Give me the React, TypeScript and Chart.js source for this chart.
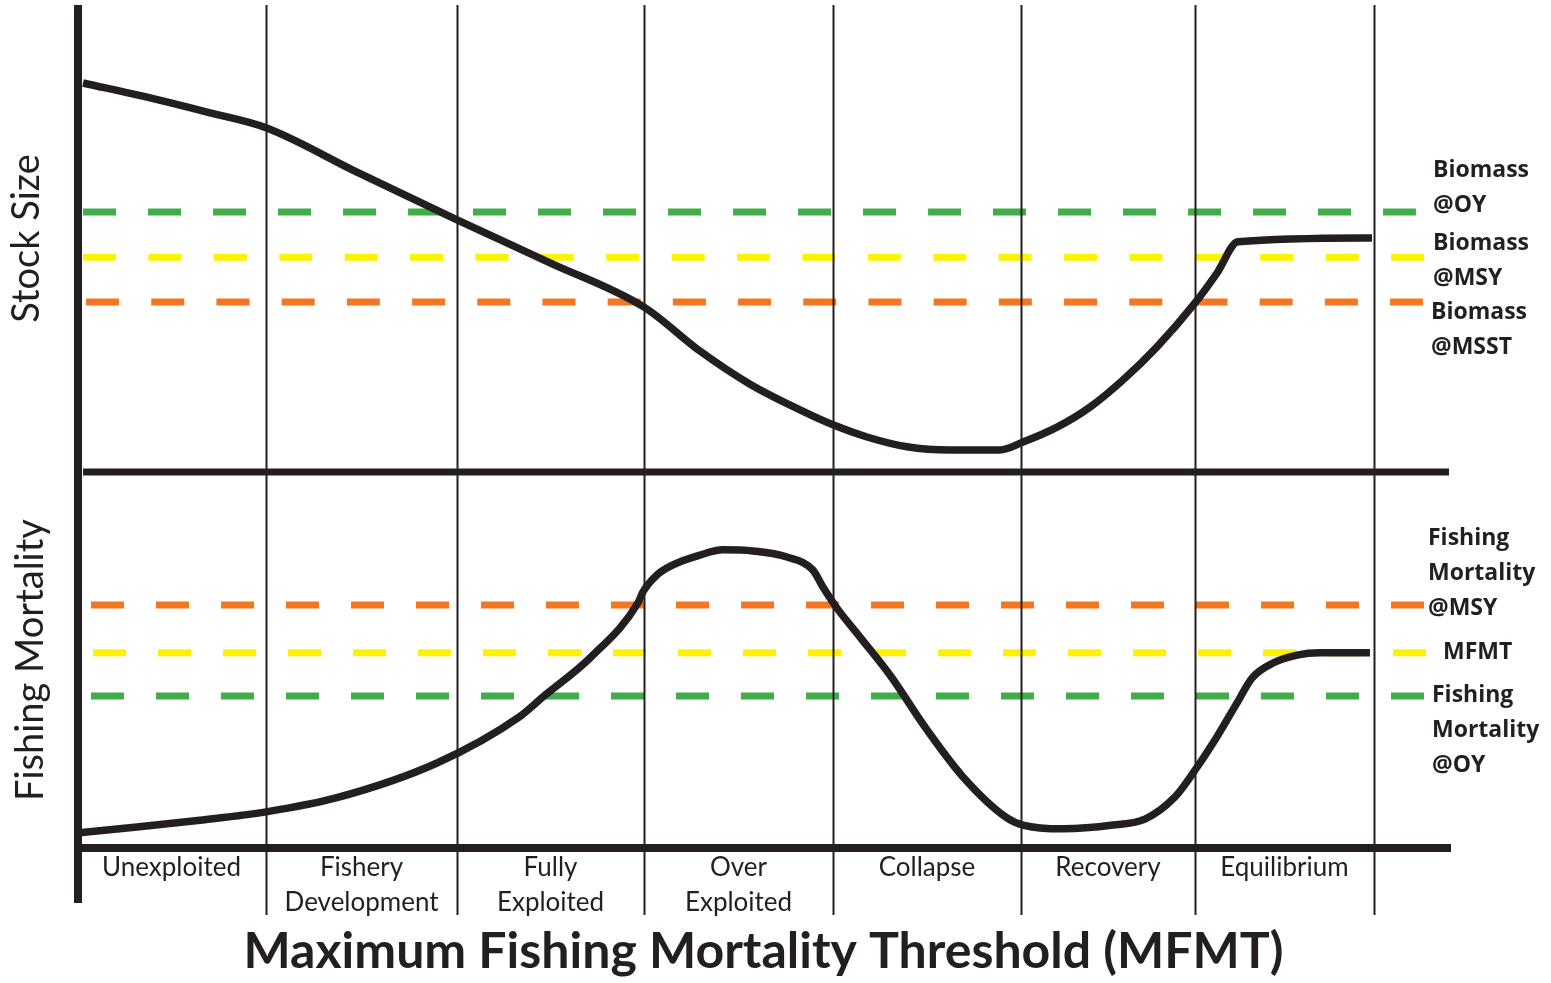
import React, { useEffect, useRef } from 'react';
import { Chart, registerables } from 'chart.js';

Chart.register(...registerables);

// ---------- data (x: percent of the horizontal span, y: 0-100 per panel) ----------
const phaseBoundaries = [0, 13.77, 27.68, 41.3, 55.06, 68.75, 81.43, 94.46];
const phaseLabels: (string | string[])[] = [
  'Unexploited',
  ['Fishery', 'Development'],
  ['Fully', 'Exploited'],
  ['Over', 'Exploited'],
  'Collapse',
  'Recovery',
  'Equilibrium',
];
const xTitle = 'Maximum Fishing Mortality Threshold (MFMT)';
const stockTitle = 'Stock Size';
const fishTitle = 'Fishing Mortality';

const stockX = [0.44, 5.32, 9.69, 13.77, 20.39, 27.68, 34.45, 41.3, 45.37, 49.02, 52.66, 55.06, 57.54, 60.45, 63.58, 67.22, 68.9, 71.38, 73.78, 76.18, 78.66, 81.43, 83.03, 84.56, 94.32];
const stockY = [83.3, 80.1, 76.9, 73.7, 64.2, 54.0, 44.8, 35.3, 25.9, 18.8, 13.3, 10.1, 7.5, 5.4, 4.7, 4.7, 6.4, 9.6, 13.9, 19.7, 26.8, 36.2, 42.6, 49.3, 50.1];

const fishX = [0, 4.37, 8.96, 13.77, 18.86, 26.22, 32.19, 33.94, 37.44, 40.86, 41.22, 42.24, 43.41, 45.37, 47.05, 49.24, 51.71, 53.6, 54.33, 55.35, 57.03, 59.21, 61.91, 64.53, 67.73, 68.9, 71.81, 75.45, 77.78, 79.97, 81.43, 82.74, 84.49, 85.58, 87.11, 88.86, 90.53, 94.17];
const fishY = [4.0, 5.6, 7.4, 9.6, 13.3, 22.6, 34.8, 40.2, 50.8, 65.2, 68.1, 72.6, 75.3, 77.9, 79.3, 79.0, 77.4, 73.9, 69.4, 63.8, 56.1, 46.0, 31.4, 18.9, 8.0, 6.1, 5.1, 6.1, 7.7, 13.6, 20.7, 27.9, 38.6, 45.2, 49.2, 51.3, 51.9, 51.9];

const stockRefValues = [55.7, 46.0, 36.4];
const stockRefStart = [0.44, 0.44, 0.66];
const stockRefEnd = [97.52, 98.11, 98.03];
const stockRefLabels = [['Biomass', '@OY'], ['Biomass', '@MSY'], ['Biomass', '@MSST']];

const fishRefValues = [64.6, 51.9, 40.4];
const fishRefStart = [1.02, 1.17, 1.02];
const fishRefEnd = [98.11, 98.33, 98.11];
const fishRefLabels = [['Fishing', 'Mortality', '@MSY'], ['MFMT'], ['Fishing', 'Mortality', '@OY']];

// ---------- styles ----------
const INK = '#231f20';
const GREEN = '#3fae49';
const YELLOW = '#fff200';
const ORANGE = '#f37721';
const stockRefColors = [GREEN, YELLOW, ORANGE];
const fishRefColors = [ORANGE, YELLOW, GREEN];
const stockRefDash = [[33, 32], [33, 32.4], [33, 32.2]];
const fishRefDash = [[33, 32], [33, 32], [33, 32]];
// label placement: x offset from chart right, first baseline offset from the reference line
const stockLabelPos = [{ dx: -17, dy: -34.5 }, { dx: -17, dy: -7.5 }, { dx: -19, dy: 16.5 }];
const fishLabelPos = [{ dx: -22, dy: -60.5 }, { dx: -7, dy: 6.5 }, { dx: -18, dy: 5.5 }];

const phaseCenters = phaseBoundaries.slice(0, -1).map((b, i) => (b + phaseBoundaries[i + 1]) / 2);

const framePlugin = {
  id: 'frame',
  afterDatasetsDraw(chart: any) {
    const { ctx, chartArea } = chart;
    const xs = chart.scales.x;
    const ys = chart.scales.yStock;
    const yf = chart.scales.yFish;
    const seg = (x1: number, y1: number, x2: number, y2: number) => {
      ctx.beginPath();
      ctx.moveTo(x1, y1);
      ctx.lineTo(x2, y2);
      ctx.stroke();
    };
    ctx.save();
    ctx.strokeStyle = INK;
    ctx.lineCap = 'butt';
    ctx.lineWidth = 2;
    phaseBoundaries.slice(1).forEach((b) => {
      const px = Math.round(xs.getPixelForValue(b)) + 0.5;
      seg(px, chartArea.top, px, chartArea.bottom + 67);
    });
    const x0 = xs.getPixelForValue(0) + 1;
    ctx.lineWidth = 8;
    seg(x0, chartArea.top, x0, chartArea.bottom + 55);
    const ySep = ys.getPixelForValue(0);
    ctx.lineWidth = 7;
    seg(xs.getPixelForValue(stockRefStart[0]), ySep, xs.right - 1, ySep);
    const yBot = yf.getPixelForValue(0);
    ctx.lineWidth = 8;
    seg(x0 - 4, yBot, xs.right + 1, yBot);
    ctx.restore();
  },
  afterDraw(chart: any) {
    const { ctx, chartArea } = chart;
    const ys = chart.scales.yStock;
    const yf = chart.scales.yFish;
    ctx.save();
    ctx.fillStyle = INK;
    ctx.font = 'bold 23px "Open Sans"';
    ctx.textBaseline = 'alphabetic';
    ctx.textAlign = 'left';
    const draw = (lines: string[], x: number, y: number) => {
      lines.forEach((t, i) => ctx.fillText(t, x, y + i * 35));
    };
    stockRefLabels.forEach((lines, i) => {
      const p = stockLabelPos[i];
      draw(lines, chartArea.right + p.dx, ys.getPixelForValue(stockRefValues[i]) + p.dy);
    });
    fishRefLabels.forEach((lines, i) => {
      const p = fishLabelPos[i];
      draw(lines, chartArea.right + p.dx, yf.getPixelForValue(fishRefValues[i]) + p.dy);
    });
    ctx.restore();
  },
};

export default function App() {
  const ref = useRef<HTMLCanvasElement>(null);

  useEffect(() => {
    const canvas = ref.current;
    if (!canvas) return;

    const curve = (xs: number[], ys: number[], axis: string) => ({
      data: xs.map((x, i) => ({ x, y: ys[i] })),
      yAxisID: axis,
      borderColor: INK,
      borderWidth: 7.5,
      borderJoinStyle: 'round' as const,
      cubicInterpolationMode: 'monotone' as const,
      pointRadius: 0,
      fill: false,
    });
    const refLine = (v: number, s: number, e: number, color: string, dash: number[], axis: string) => ({
      data: [{ x: s, y: v }, { x: e, y: v }],
      yAxisID: axis,
      borderColor: color,
      borderWidth: 7,
      borderDash: dash,
      borderCapStyle: 'butt' as const,
      pointRadius: 0,
      fill: false,
    });

    const datasets: any[] = [
      curve(stockX, stockY, 'yStock'),
      curve(fishX, fishY, 'yFish'),
      ...stockRefValues.map((v, i) => refLine(v, stockRefStart[i], stockRefEnd[i], stockRefColors[i], stockRefDash[i], 'yStock')),
      ...fishRefValues.map((v, i) => refLine(v, fishRefStart[i], fishRefEnd[i], fishRefColors[i], fishRefDash[i], 'yFish')),
    ];

    const yCommon = (title: string, weight: number, pad: number) => ({
      type: 'linear' as const,
      position: 'left' as const,
      stack: 'panels',
      stackWeight: weight,
      min: 0,
      max: 100,
      grid: { display: false, drawTicks: false },
      border: { display: false },
      ticks: { display: false },
      title: {
        display: true,
        text: title,
        color: INK,
        font: { family: 'Lato', size: 38, lineHeight: 1 },
        padding: { top: pad, bottom: 0 },
      },
      afterFit: (s: any) => {
        s.width = 77;
      },
    });

    const chart = new Chart(canvas, {
      type: 'line',
      data: { datasets },
      plugins: [framePlugin],
      options: {
        animation: false,
        responsive: false,
        events: [],
        layout: { padding: { top: 5, right: 101, bottom: 0, left: 0 } },
        plugins: { legend: { display: false }, tooltip: { enabled: false } },
        scales: {
          x: {
            type: 'linear',
            position: 'bottom',
            min: 0,
            max: 100,
            grid: { display: false, drawTicks: false },
            border: { display: false },
            afterBuildTicks: (s: any) => {
              s.ticks = phaseCenters.map((v) => ({ value: v }));
            },
            ticks: {
              autoSkip: false,
              maxRotation: 0,
              minRotation: 0,
              padding: 2,
              color: INK,
              font: { family: 'Lato', size: 26, lineHeight: 1.35 },
              callback: (_v: any, i: number) => phaseLabels[i],
            },
            title: {
              display: true,
              text: xTitle,
              color: INK,
              font: { family: 'Lato', size: 50, weight: 'bold', lineHeight: 1 },
              padding: { top: 0, bottom: 6 },
            },
            afterFit: (s: any) => {
              s.height = 135;
            },
          },
          yFish: yCommon(fishTitle, 376, 12),
          yStock: yCommon(stockTitle, 467, 8),
        } as any,
      },
    });
    return () => chart.destroy();
  }, []);

  return (
    <div style={{ position: 'absolute', left: 0, top: 0, width: 1551, height: 983, background: '#ffffff' }}>
      <canvas ref={ref} width={1551} height={983} style={{ display: 'block', width: 1551, height: 983 }} />
    </div>
  );
}
